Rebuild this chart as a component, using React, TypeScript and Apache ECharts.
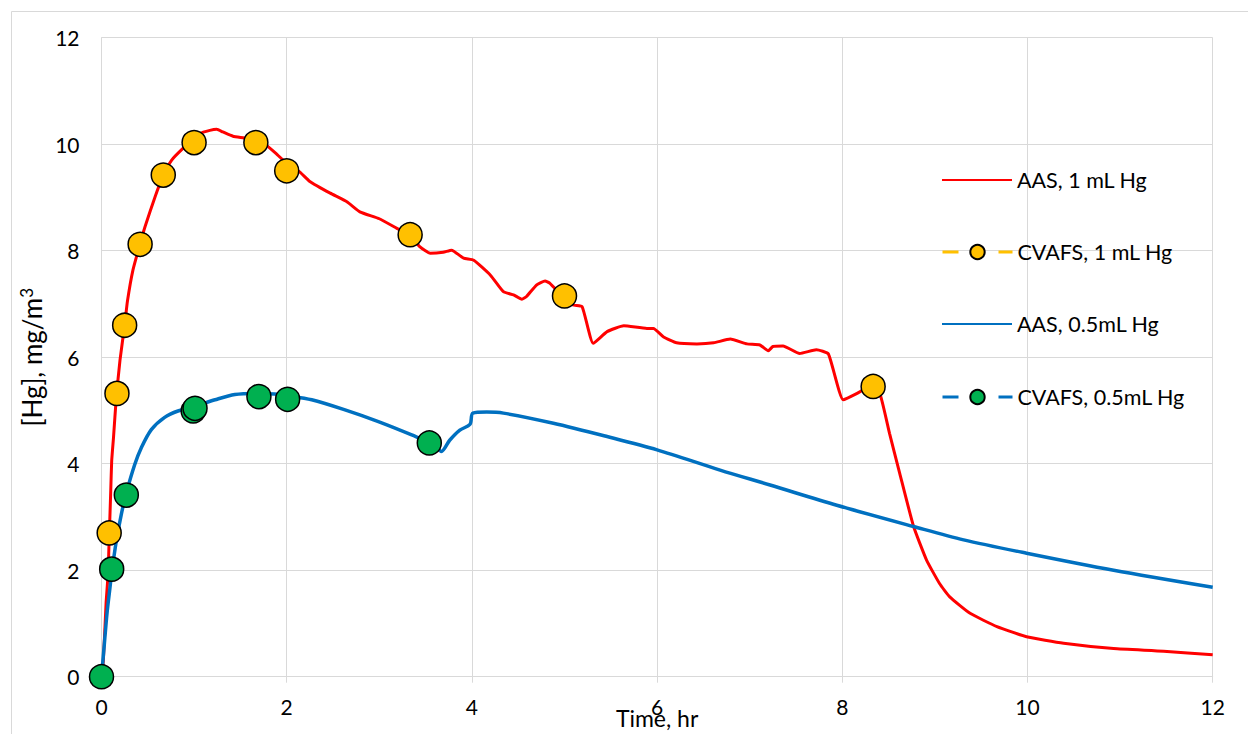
import React, { useEffect, useRef } from "react";
import * as echarts from "echarts";

const xTicks = [0, 2, 4, 6, 8, 10, 12];
const yTicks = [0, 2, 4, 6, 8, 10, 12];

const aas1: [number, number][] = [
  [0, 0], [0.02, 0.3], [0.05, 1.4], [0.07, 1.9], [0.085, 2.7], [0.1, 3.5], [0.11, 4.05], [0.13, 4.5],
  [0.16, 5.25], [0.2, 5.95], [0.25, 6.6], [0.28, 7.05], [0.34, 7.64], [0.42, 8.15], [0.47, 8.45],
  [0.578, 9.01], [0.664, 9.4], [0.758, 9.7], [0.88, 9.92], [1.0, 10.1], [1.06, 10.2],
  [1.17, 10.26], [1.244, 10.28], [1.31, 10.23], [1.42, 10.15], [1.57, 10.11], [1.67, 10.05],
  [1.78, 9.98], [1.9, 9.8], [2.0, 9.64], [2.14, 9.48], [2.25, 9.3], [2.47, 9.08], [2.65, 8.92],
  [2.79, 8.73], [3.0, 8.6], [3.19, 8.42], [3.32, 8.3], [3.44, 8.07], [3.55, 7.95], [3.69, 7.97],
  [3.78, 8.01], [3.91, 7.86], [4.02, 7.82], [4.2, 7.54], [4.34, 7.23], [4.45, 7.17], [4.54, 7.09],
  [4.59, 7.14], [4.7, 7.36], [4.79, 7.43], [4.84, 7.39], [4.98, 7.14], [5.09, 6.98], [5.19, 6.95],
  [5.31, 6.26], [5.46, 6.48], [5.64, 6.59], [5.89, 6.54], [5.96, 6.54], [6.07, 6.38], [6.21, 6.27],
  [6.43, 6.25], [6.61, 6.27], [6.79, 6.34], [6.97, 6.25], [7.11, 6.23], [7.2, 6.12], [7.25, 6.2],
  [7.36, 6.21], [7.54, 6.07], [7.72, 6.14], [7.85, 6.06], [8.01, 5.2], [8.16, 5.32], [8.26, 5.42],
  [8.32, 5.45], [8.41, 5.29], [8.51, 4.57], [8.62, 3.82], [8.77, 2.82], [8.91, 2.19], [9.05, 1.75],
  [9.16, 1.5], [9.38, 1.19], [9.67, 0.94], [9.99, 0.75], [10.39, 0.63], [10.93, 0.53],
  [11.47, 0.48], [12.0, 0.41],
];

const cvafs1: [number, number][] = [
  [0.083, 2.7], [0.167, 5.32], [0.25, 6.6], [0.417, 8.12], [0.667, 9.42], [1.0, 10.03],
  [1.667, 10.03], [2.0, 9.5], [3.333, 8.3], [5.0, 7.15], [8.333, 5.45],
];

const aas05: [number, number][] = [
  [0, 0], [0.03, 0.6], [0.06, 1.2], [0.09, 1.65], [0.11, 1.95], [0.16, 2.55], [0.214, 3.05],
  [0.268, 3.45], [0.358, 3.98], [0.43, 4.3], [0.538, 4.64], [0.682, 4.87], [0.826, 4.99],
  [1.0, 5.07], [1.226, 5.2], [1.44, 5.3], [1.69, 5.32], [1.87, 5.31], [2.0, 5.28], [2.27, 5.2],
  [2.63, 5.01], [2.99, 4.79], [3.35, 4.54], [3.6, 4.35], [3.67, 4.23], [3.76, 4.44], [3.87, 4.63],
  [3.98, 4.74], [4.01, 4.95], [4.16, 4.97], [4.34, 4.95], [4.88, 4.76], [5.46, 4.51], [6.0, 4.26],
  [6.68, 3.88], [7.22, 3.6], [7.94, 3.22], [8.77, 2.82], [9.31, 2.57], [9.99, 2.32], [10.93, 2.0],
  [12.0, 1.68],
];

const cvafs05: [number, number][] = [
  [0, 0], [0.11, 2.02], [0.268, 3.41], [0.99, 4.99], [1.01, 5.04], [1.7, 5.26], [2.01, 5.21],
  [3.54, 4.39],
];

const names = ["AAS, 1 mL Hg", "CVAFS, 1 mL Hg", "AAS, 0.5mL Hg", "CVAFS, 0.5mL Hg"];

const FONT = "Lato";
const GRID = "#D9D9D9";

export default function App() {
  const ref = useRef<HTMLDivElement>(null);
  useEffect(() => {
    if (!ref.current) return;
    const chart = echarts.init(ref.current, null, { renderer: "svg", width: 1248, height: 734 });
    const legendBase = {
      orient: "vertical" as const,
      left: 941,
      padding: 0,
      itemWidth: 70,
      itemHeight: 18,
      itemGap: 7,
      textStyle: { fontFamily: FONT, fontSize: 21.5, color: "#000", lineHeight: 20 },
    };
    const legendTops = [169, 241, 313, 386];
    const legendColors = ["#FF0000", "#FFC000", "#0070C0", "#0070C0"];
    const legends = names.map((n, i) => ({
      ...legendBase,
      top: legendTops[i],
      data: [
        i % 2 === 1
          ? { name: n, lineStyle: { color: legendColors[i], type: [16, 40], width: 3, opacity: 1 } }
          : { name: n, itemStyle: { opacity: 0 } },
      ],
    }));
    chart.setOption({
      animation: false,
      backgroundColor: "#fff",
      graphic: [
        {
          type: "rect",
          shape: { x: 11.5, y: 11.5, width: 1260, height: 760 },
          style: { fill: "none", stroke: GRID, lineWidth: 1 },
          silent: true,
        },
      ],
      grid: {
        left: 101.5,
        top: 37.7,
        width: 1111.2,
        height: 639,
        containLabel: false,
        outerBoundsMode: "none",
      },
      legend: legends,
      xAxis: {
        type: "value",
        min: xTicks[0],
        max: xTicks[xTicks.length - 1],
        interval: 2,
        name: "Time, hr",
        nameLocation: "middle",
        nameGap: 30,
        nameMoveOverlap: false,
        nameTextStyle: { fontFamily: FONT, fontSize: 23, color: "#000" },
        axisLine: { show: true, lineStyle: { color: GRID, width: 1 } },
        axisTick: { show: true, length: 6, lineStyle: { color: GRID } },
        axisLabel: { fontFamily: FONT, fontSize: 21, color: "#000", margin: 19 },
        splitLine: { show: true, lineStyle: { color: GRID, width: 1 } },
      },
      yAxis: {
        type: "value",
        min: yTicks[0],
        max: yTicks[yTicks.length - 1],
        interval: 2,
        name: "{a|[Hg], mg/m}{sup|3}",
        nameLocation: "middle",
        nameGap: 56,
        nameMoveOverlap: false,
        nameTextStyle: {
          fontFamily: FONT,
          fontSize: 26,
          color: "#000",
          rich: {
            a: { fontFamily: FONT, fontSize: 26, color: "#000", lineHeight: 28 },
            sup: { fontFamily: FONT, fontSize: 17, color: "#000", verticalAlign: "top", lineHeight: 17 },
          },
        },
        axisLine: { show: true, lineStyle: { color: GRID, width: 1 } },
        axisTick: { show: false },
        axisLabel: { fontFamily: FONT, fontSize: 21, color: "#000", margin: 22 },
        splitLine: { show: true, lineStyle: { color: GRID, width: 1 } },
      },
      series: [
        {
          name: names[0],
          type: "line",
          data: aas1,
          symbol: "none",
          smooth: 0.15,
          lineStyle: { color: "#FF0000", width: 3 },
          itemStyle: { color: "#FF0000" },
        },
        {
          name: names[1],
          type: "line",
          data: cvafs1,
          symbol: "circle",
          symbolSize: 24,
          showSymbol: true,
          lineStyle: { opacity: 0, color: "#FFC000" },
          itemStyle: { color: "#FFC000", borderColor: "#000", borderWidth: 1.5 },
        },
        {
          name: names[2],
          type: "line",
          data: aas05,
          symbol: "none",
          smooth: 0.3,
          lineStyle: { color: "#0070C0", width: 3.5 },
          itemStyle: { color: "#0070C0" },
        },
        {
          name: names[3],
          type: "line",
          data: cvafs05,
          symbol: "circle",
          symbolSize: 24,
          showSymbol: true,
          lineStyle: { opacity: 0, color: "#0070C0" },
          itemStyle: { color: "#00B050", borderColor: "#000", borderWidth: 1.5 },
        },
      ],
    });
    return () => chart.dispose();
  }, []);
  return (
    <div
      ref={ref}
      style={{ position: "fixed", left: 0, top: 0, width: 1248, height: 734 }}
    />
  );
}
